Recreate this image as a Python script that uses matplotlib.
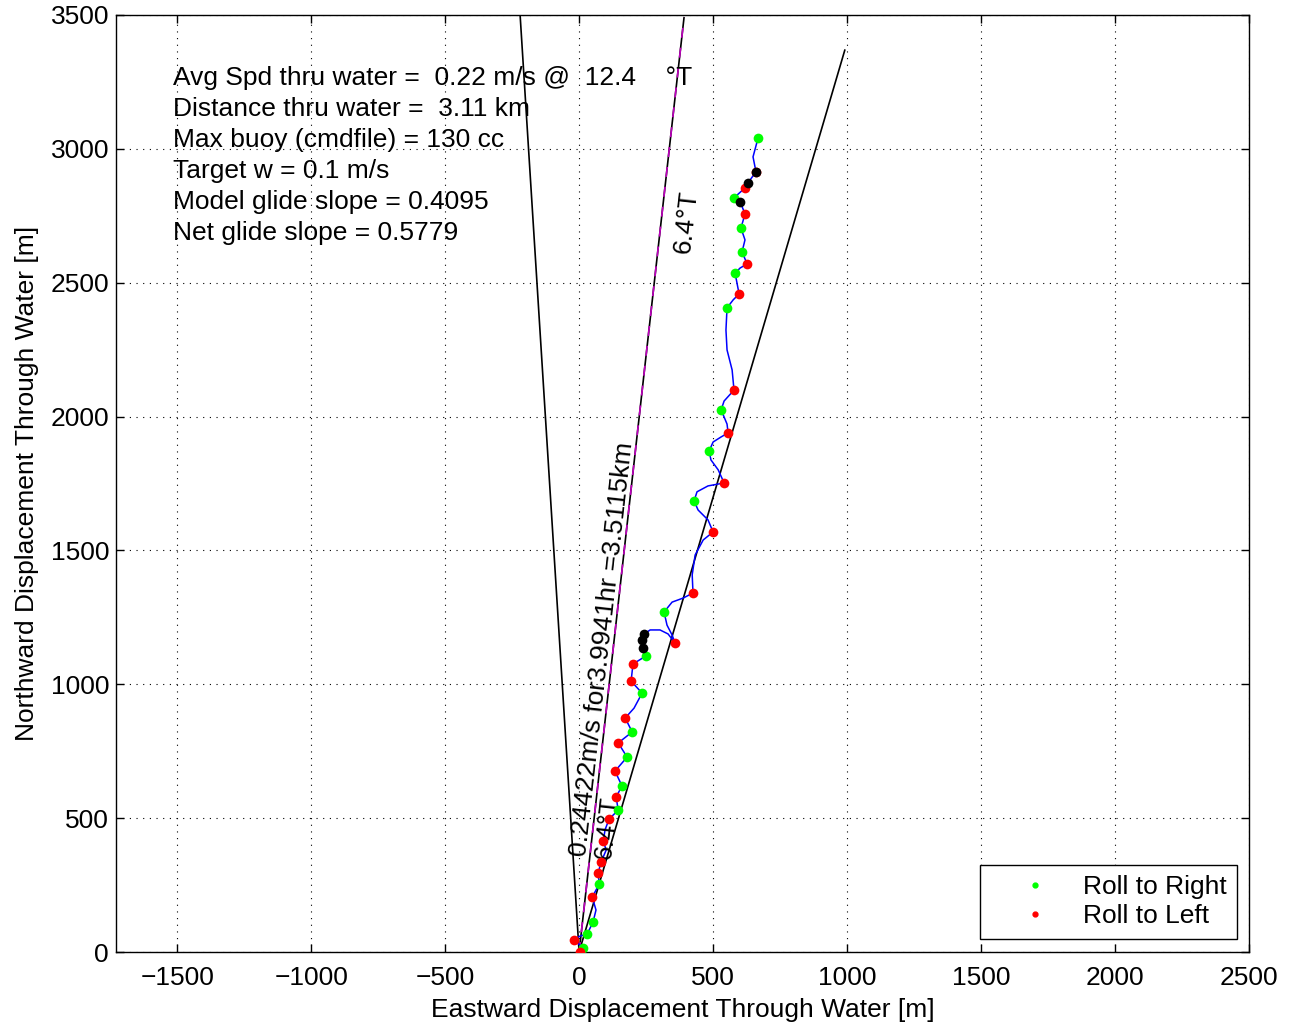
import numpy as np
import matplotlib.pyplot as plt

plt.rcParams['font.family'] = ['Liberation Sans', 'DejaVu Sans']

# glider track through water [m] (east, north)
track_east = np.array([4, 15, -19, 4, 30, 52, 63, 49, 75, 71, 82, 101, 90, 97, 112, 146, 138, 160,
                       134, 179, 146, 198, 172, 205, 235, 194, 201, 250, 239, 235, 243, 265, 302,
                       332, 358, 347, 328, 317, 347, 388, 425, 422, 433, 463, 500, 481, 444, 429,
                       440, 481, 541, 519, 492, 485, 500, 530, 556, 552, 530, 541, 578, 571, 552,
                       548, 552, 575, 597, 582, 601, 627, 608, 619, 604, 619, 601, 578, 619, 630,
                       660, 649, 668], dtype=float)
track_north = np.array([0, 15, 45, 60, 67, 112, 157, 205, 254, 295, 336, 381, 415, 457, 497, 530,
                        579, 620, 676, 728, 781, 822, 874, 911, 967, 1012, 1076, 1106, 1136, 1165,
                        1188, 1203, 1203, 1188, 1154, 1184, 1221, 1270, 1307, 1322, 1341, 1409,
                        1483, 1539, 1569, 1614, 1651, 1685, 1719, 1741, 1752, 1801, 1838, 1871,
                        1905, 1924, 1939, 1972, 2025, 2058, 2099, 2174, 2249, 2323, 2406, 2436,
                        2458, 2536, 2555, 2570, 2615, 2660, 2704, 2757, 2802, 2817, 2854, 2873,
                        2914, 2970, 3041], dtype=float)

# indices into the track where the glider rolls
roll_right_idx = [1, 4, 5, 8, 15, 17, 19, 21, 24, 27, 37, 47, 53, 58, 64, 67, 70, 72, 75, 80]
roll_left_idx = [0, 2, 7, 9, 10, 12, 14, 16, 18, 20, 22, 25, 26, 34, 40, 44, 50, 56, 60, 66, 69,
                 73, 76, 78]
black_idx = [28, 29, 30, 74, 77, 78]

# heading cone and summary numbers
cone_headings = [-3.6, 6.4, 16.4]   # deg true
mean_heading = 6.4
cone_length = 3511.5               # m
info_lines = ["Avg Spd thru water =  0.22 m/s @  12.4    \u00b0T",
              "Distance thru water =  3.11 km",
              "Max buoy (cmdfile) = 130 cc",
              "Target w = 0.1 m/s",
              "Model glide slope = 0.4095",
              "Net glide slope = 0.5779"]
dist_label = "0.24422m/s for3.9941hr =3.5115km"
heading_label = "6.4\u00b0T"

fig = plt.figure(figsize=(12.91, 10.26), dpi=100)
ax = fig.add_axes([0.0899, 0.0721, 0.8776, 0.9133])
fs = 19

for h in cone_headings:
    r = np.radians(h)
    ax.plot([0, cone_length * np.sin(r)], [0, cone_length * np.cos(r)], color='k', lw=1.2)
r = np.radians(mean_heading)
ax.plot([0, cone_length * np.sin(r)], [0, cone_length * np.cos(r)], color='m', lw=1.2,
        ls=(0, (6, 6)))

ax.plot(track_east, track_north, color='b', lw=1.1, zorder=3)
ax.plot(track_east[roll_right_idx], track_north[roll_right_idx], 'o', color=(0, 1, 0), ms=7,
        mec='none', zorder=4)
ax.plot(track_east[roll_left_idx], track_north[roll_left_idx], 'o', color=(1, 0, 0), ms=7,
        mec='none', zorder=4)
ax.plot(track_east[black_idx], track_north[black_idx], 'o', color='k', ms=7, mec='none', zorder=5)

# legend proxies
ax.plot([], [], '.', color=(0, 1, 0), ms=7, label='Roll to Right')
ax.plot([], [], '.', color=(1, 0, 0), ms=7, label='Roll to Left')
leg = ax.legend(loc='lower right', bbox_to_anchor=(0.9894, 0.0139), borderaxespad=0,
                fontsize=fs, frameon=True, fancybox=False, edgecolor='k', framealpha=1,
                handletextpad=0.1, handlelength=3.4, borderpad=0.4, labelspacing=0.2)
leg.get_frame().set_linewidth(1.0)

for i, line in enumerate(info_lines):
    ax.text(-1515, 3265 - 116 * i, line, fontsize=fs, ha='left', va='center')
ax.text(86, 1132, dist_label, fontsize=fs, rotation=90 - mean_heading, ha='center', va='center',
        rotation_mode='anchor')
ax.text(399, 2727, heading_label, fontsize=fs, rotation=90 - mean_heading, ha='center',
        va='center', rotation_mode='anchor')
ax.text(104, 463, heading_label, fontsize=fs, rotation=90 - mean_heading, ha='center',
        va='center', rotation_mode='anchor')

ax.set_xlim(-1728, 2500)
ax.set_ylim(0, 3500)
ax.set_xticks(np.arange(-1500, 2501, 500))
ax.set_yticks(np.arange(0, 3501, 500))
ax.tick_params(direction='in', top=True, right=True, labelsize=fs, length=6, width=1)
ax.tick_params(axis='x', pad=10)
ax.tick_params(axis='y', pad=5)
ax.grid(True, color='k', ls=(0, (1, 5)), lw=0.8)
for s in ax.spines.values():
    s.set_linewidth(1.0)
ax.set_xlabel("Eastward Displacement Through Water [m]", fontsize=fs, labelpad=6)
ax.set_ylabel("Northward Displacement Through Water [m]", fontsize=fs, labelpad=8)

fig.savefig("out.png", dpi=100)
